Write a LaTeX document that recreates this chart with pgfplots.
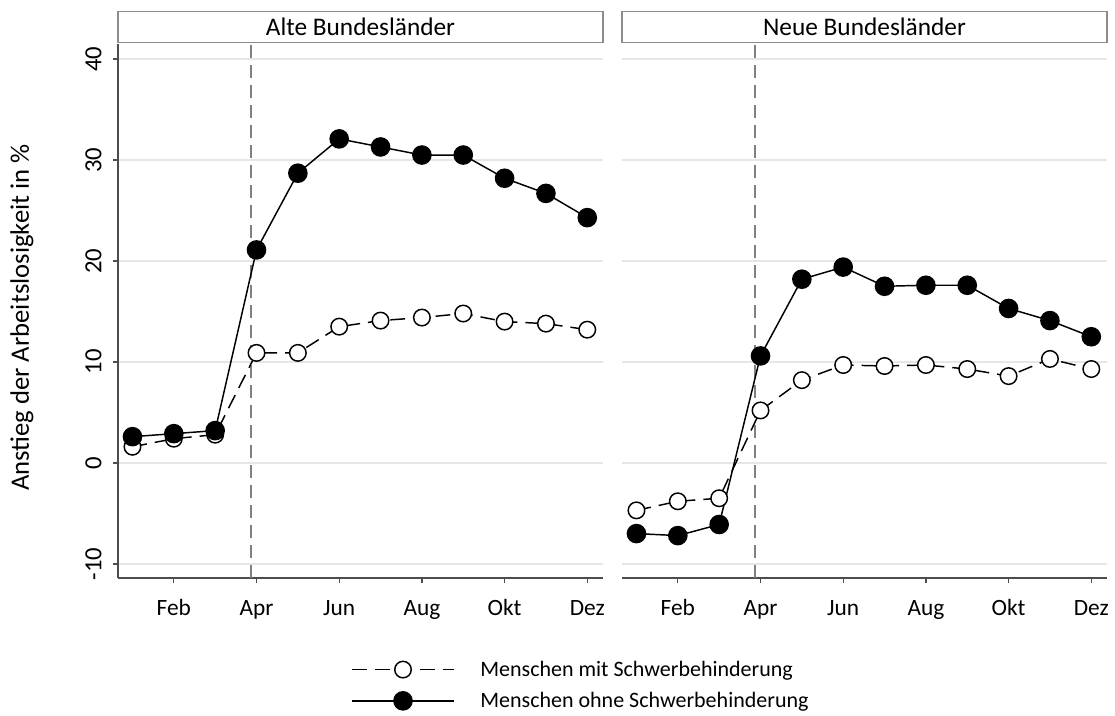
\documentclass[border=0pt]{standalone}
\usepackage{fontspec}
\setmainfont{Carlito}
\usepackage{pgfplots}
\pgfplotsset{compat=1.18}

\definecolor{axgray}{HTML}{4D4D4D}
\definecolor{gridgray}{HTML}{E6E6E6}
\definecolor{boxgray}{HTML}{8C8C8C}
\definecolor{vlinegray}{HTML}{808080}

\pgfplotsset{
  panel/.style={
    scale only axis,
    width=363.75pt, height=400.5pt,
    xmin=0.65, xmax=12.38,
    ymin=-11.4, ymax=41.5,
    axis lines*=left,
    axis line style={-, axgray, line width=1.1pt},
    xtick={2,4,6,8,10,12},
    xticklabels={Feb,Apr,Jun,Aug,Okt,Dez},
    ytick={-10,0,10,20,30,40},
    tick align=outside,
    major tick length=3.75pt,
    tick style={axgray, line width=1pt},
    ymajorgrids=true,
    grid style={gridgray, line width=1.1pt},
    xticklabel style={font=\fontsize{17.5}{21}\selectfont,
      text height=12pt, text depth=4pt, anchor=north},
    xticklabel shift=8.5pt,
    yticklabel style={font=\fontsize{18.5}{22}\selectfont,
      rotate=90, anchor=south},
    yticklabel shift=5pt,
    /pgf/number format/assume math mode=true,
    title style={draw=boxgray, line width=0.8pt, fill=white,
      font=\fontsize{19}{22}\selectfont,
      minimum width=363.75pt, minimum height=23pt, inner sep=0pt,
      anchor=south, at={(0.5,1)}, yshift=-5pt},
    clip=false,
  },
  mit/.style={black, line width=1.1pt, dash pattern=on 11pt off 6pt,
    mark=*, mark size=6.2pt,
    mark options={solid, fill=white, draw=black, line width=1.1pt}},
  ohne/.style={black, line width=1.1pt, solid,
    mark=*, mark size=6.8pt, mark options={solid, fill=black}},
  vline/.style={vlinegray, line width=1.1pt, dash pattern=on 10pt off 5pt,
    forget plot},
}

\begin{document}
\begin{tikzpicture}
\useasboundingbox (-88.5pt,-102.75pt) rectangle (747.75pt,433.5pt);
\begin{axis}[panel,
    title={Alte Bundesländer},
    ylabel={Anstieg der Arbeitslosigkeit in \%},
    ylabel style={font=\fontsize{20}{24}\selectfont,
      at={(axis description cs:0,0.5)}, anchor=center, yshift=72pt, xshift=-5pt},
    legend style={draw=none, fill=none, at={(0,0)}, anchor=north west,
      xshift=172pt, yshift=-58pt, row sep=6.5pt,
      font=\fontsize{16.5}{19}\selectfont,
      nodes={inner sep=2pt, anchor=west}, cells={anchor=west}},
    legend cell align=left,
    legend image code/.code={
      \draw[#1, mark repeat=2, mark phase=2]
        plot coordinates {(0pt,0pt) (38pt,0pt) (76pt,0pt)};
      \draw[draw=none] (76pt,0pt) -- (94pt,0pt);},
  ]
\addplot[vline] coordinates {(3.87,-11.4) (3.87,41.5)};
\addplot[mit] coordinates {
  (1,1.6) (2,2.4) (3,2.8) (4,10.9) (5,10.9) (6,13.5)
  (7,14.1) (8,14.4) (9,14.8) (10,14.0) (11,13.8) (12,13.2)};
\addlegendentry{Menschen mit Schwerbehinderung}
\addplot[ohne] coordinates {
  (1,2.6) (2,2.9) (3,3.2) (4,21.1) (5,28.7) (6,32.1)
  (7,31.3) (8,30.5) (9,30.5) (10,28.2) (11,26.7) (12,24.3)};
\addlegendentry{Menschen ohne Schwerbehinderung}
\end{axis}

\begin{axis}[panel, xshift=378pt,
    title={Neue Bundesländer},
    yticklabels={},
    y axis line style={draw=none},
    ytick style={draw=none},
  ]
\addplot[vline] coordinates {(3.87,-11.4) (3.87,41.5)};
\addplot[mit] coordinates {
  (1,-4.7) (2,-3.8) (3,-3.5) (4,5.2) (5,8.2) (6,9.7)
  (7,9.6) (8,9.7) (9,9.3) (10,8.6) (11,10.3) (12,9.3)};
\addplot[ohne] coordinates {
  (1,-7.0) (2,-7.2) (3,-6.1) (4,10.6) (5,18.2) (6,19.4)
  (7,17.5) (8,17.6) (9,17.6) (10,15.3) (11,14.1) (12,12.5)};
\end{axis}
\end{tikzpicture}
\end{document}
